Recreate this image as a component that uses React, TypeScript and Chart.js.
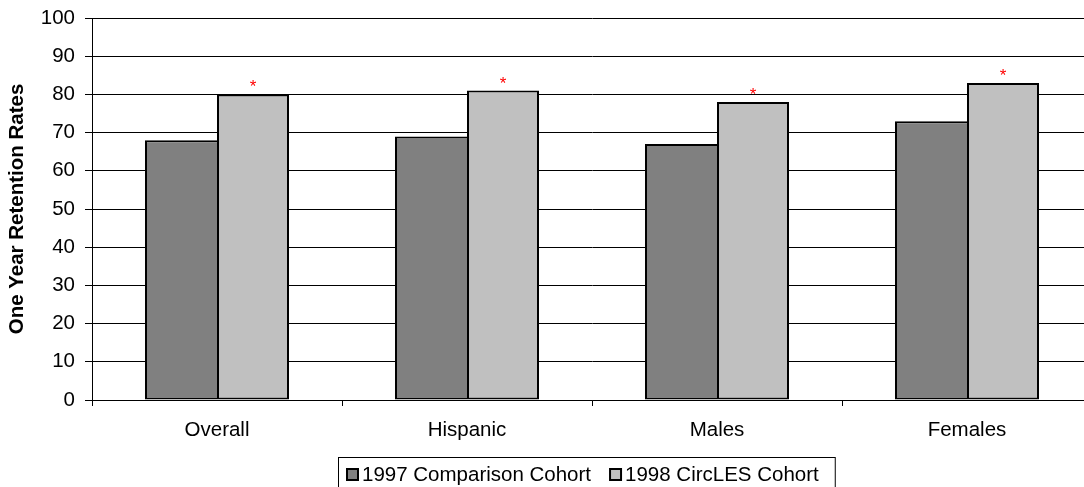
import React, { useEffect, useRef } from "react";
import { Chart, registerables } from "chart.js";

Chart.register(...registerables);

const categories = ["Overall", "Hispanic", "Males", "Females"];
const cohort1997 = [68, 69, 67, 73];
const cohort1998 = [80, 81, 78, 83];
const significant1998 = [true, true, true, true];
const seriesNames = ["1997 Comparison Cohort", "1998 CircLES Cohort"];
const seriesColors = ["#808080", "#c0c0c0"];
const yTitle = "One Year Retention Rates";
const FONT = "'Liberation Sans', Arial, sans-serif";
const FS = 20.5;

const asteriskPlugin = {
  id: "asterisks",
  afterDatasetsDraw(chart: any) {
    const meta = chart.getDatasetMeta(1);
    const ctx = chart.ctx;
    ctx.save();
    ctx.fillStyle = "#ff0000";
    ctx.font = `17px ${FONT}`;
    ctx.textAlign = "center";
    ctx.textBaseline = "alphabetic";
    meta.data.forEach((el: any, i: number) => {
      if (significant1998[i]) ctx.fillText("*", el.x, el.y - 2);
    });
    ctx.restore();
  },
};

const legendPlugin = {
  id: "customLegend",
  afterDraw(chart: any) {
    const ctx = chart.ctx;
    const ds = chart.data.datasets;
    ctx.save();
    ctx.font = `${FS}px ${FONT}`;
    const box = 13;
    const gapBoxText = 3;
    const gapItems = 18;
    const padL = 8;
    const padR = 16;
    const widths = ds.map((d: any) => ctx.measureText(d.label).width);
    let total = padL + padR;
    widths.forEach((w: number, i: number) => {
      total += box + gapBoxText + w + (i < widths.length - 1 ? gapItems : 0);
    });
    const ca = chart.chartArea;
    const cx = (ca.left + ca.right) / 2 - 6;
    const left = Math.round(cx - total / 2);
    const top = 457;
    ctx.strokeStyle = "#000";
    ctx.lineWidth = 1;
    ctx.strokeRect(left + 0.5, top + 0.5, total, 60);
    let x = left + padL;
    const baseline = top + 24;
    ds.forEach((d: any, i: number) => {
      ctx.fillStyle = "#000";
      ctx.fillRect(x, baseline - 13, box, box);
      ctx.fillStyle = d.backgroundColor;
      ctx.fillRect(x + 2, baseline - 11, box - 4, box - 4);
      x += box + gapBoxText;
      ctx.fillStyle = "#000";
      ctx.textBaseline = "alphabetic";
      ctx.textAlign = "left";
      ctx.fillText(d.label, x, baseline);
      x += widths[i] + gapItems;
    });
    ctx.restore();
  },
};

export default function App() {
  const ref = useRef<HTMLCanvasElement>(null);
  useEffect(() => {
    document.body.style.margin = "0";
    const chart = new Chart(ref.current!, {
      type: "bar",
      data: {
        labels: categories,
        datasets: [
          {
            label: seriesNames[0],
            data: cohort1997,
            backgroundColor: seriesColors[0],
            borderColor: "#000",
            borderWidth: { top: 2, left: 2, bottom: 2, right: 0 },
            borderSkipped: false,
            categoryPercentage: 0.576,
            barPercentage: 1,
          },
          {
            label: seriesNames[1],
            data: cohort1998,
            backgroundColor: seriesColors[1],
            borderColor: "#000",
            borderWidth: 2,
            borderSkipped: false,
            categoryPercentage: 0.576,
            barPercentage: 1,
          },
        ],
      },
      options: {
        animation: false,
        responsive: false,
        devicePixelRatio: 1,
        layout: { padding: { top: 18, right: 8, left: 0, bottom: 43 } },
        plugins: {
          tooltip: { enabled: false },
          legend: { display: false },
        },
        scales: {
          x: {
            grid: {
              offset: true,
              drawOnChartArea: false,
              drawTicks: true,
              tickLength: 6,
              color: "#000",
            },
            border: { color: "#000", width: 1 },
            ticks: {
              color: "#000",
              font: { family: FONT, size: FS },
              padding: 12,
            },
            afterFit(scale: any) {
              scale.height = 57;
              scale.paddingLeft = 0;
              scale.paddingRight = 0;
            },
          },
          y: {
            min: 0,
            max: 100,
            ticks: {
              stepSize: 10,
              color: "#000",
              font: { family: FONT, size: FS },
              padding: 10,
            },
            grid: { color: "#000", tickLength: 7 },
            border: { color: "#000", width: 1 },
            title: {
              display: true,
              text: yTitle,
              color: "#000",
              font: { family: FONT, size: FS, weight: "bold" },
              padding: { top: 5, bottom: 4 },
            },
            afterFit(scale: any) {
              scale.width = 92;
              scale.paddingTop = 0;
              scale.paddingBottom = 0;
            },
          },
        },
      },
      plugins: [asteriskPlugin, legendPlugin],
    } as any);
    return () => chart.destroy();
  }, []);
  return (
    <div style={{ width: 1084, height: 487, overflow: "hidden", position: "relative" }}>
      <canvas ref={ref} width={1100} height={500} style={{ display: "block" }} />
    </div>
  );
}
